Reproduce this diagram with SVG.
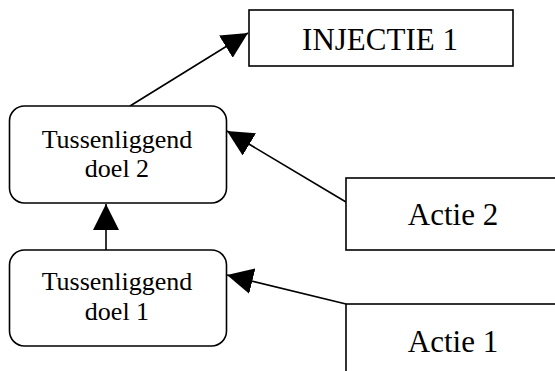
<svg xmlns="http://www.w3.org/2000/svg" width="555" height="371" viewBox="0 0 555 371">
  <style>
    .box { fill: #ffffff; stroke: #000000; stroke-width: 1.6; }
    .edge { fill: none; stroke: #000000; stroke-width: 1.6; }
    .lbl { font-family: "Liberation Serif", "Times New Roman", serif; fill: #000000; text-anchor: middle; }
    .big { font-size: 31px; }
    .mid { font-size: 26px; }
  </style>
  <defs>
    <marker id="head" viewBox="0 0 26 26" refX="26" refY="13" markerWidth="26" markerHeight="26" markerUnits="userSpaceOnUse" orient="auto">
      <path d="M0,0 L26,13 L0,26 z" fill="#000000"/>
    </marker>
  </defs>
  <rect width="555" height="371" fill="#ffffff"/>

  <g id="connectors">
    <line class="edge" x1="130" y1="106" x2="248" y2="33" marker-end="url(#head)"/>
    <line class="edge" x1="106" y1="250" x2="106" y2="204" marker-end="url(#head)"/>
    <line class="edge" x1="346" y1="202" x2="227" y2="131" marker-end="url(#head)"/>
    <line class="edge" x1="346" y1="304" x2="227" y2="275" marker-end="url(#head)"/>
  </g>

  <g id="injectie1">
    <rect class="box" x="249" y="10" width="264" height="56"/>
    <text class="lbl big" x="380" y="50">INJECTIE 1</text>
  </g>

  <g id="doel2">
    <rect class="box" x="9.5" y="106" width="217" height="97" rx="15" ry="15"/>
    <text class="lbl mid" x="117" y="148">Tussenliggend</text>
    <text class="lbl mid" x="117" y="177">doel 2</text>
  </g>

  <g id="doel1">
    <rect class="box" x="9.5" y="250" width="217" height="96" rx="15" ry="15"/>
    <text class="lbl mid" x="117" y="290">Tussenliggend</text>
    <text class="lbl mid" x="117" y="320">doel 1</text>
  </g>

  <g id="actie2">
    <rect class="box" x="346" y="178" width="220" height="72"/>
    <text class="lbl big" x="453" y="225">Actie 2</text>
  </g>

  <g id="actie1">
    <rect class="box" x="346" y="304" width="220" height="80"/>
    <text class="lbl big" x="453" y="352">Actie 1</text>
  </g>
</svg>
